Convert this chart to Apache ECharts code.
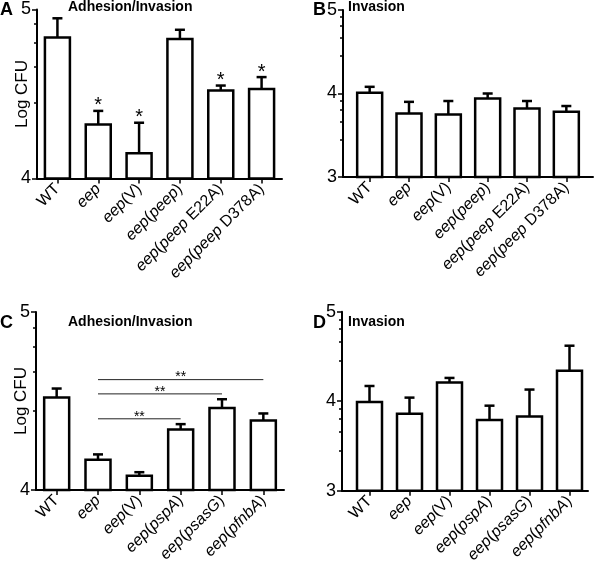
<!DOCTYPE html>
<html>
<head>
<meta charset="utf-8">
<script src="https://cdn.jsdelivr.net/npm/echarts@6/dist/echarts.min.js"></script>
<style>
html, body { margin: 0; padding: 0; background: #fff; }
#main { width: 600px; height: 566px; }
</style>
</head>
<body>
<div id="main"></div>
<script>
var FONT = '"Liberation Sans", Arial, sans-serif';

// categories
var catsTop = ['WT', 'eep', 'eep(V)', 'eep(peep)', 'eep(peep E22A)', 'eep(peep D378A)'];
var catsBottom = ['WT', 'eep', 'eep(V)', 'eep(pspA)', 'eep(psasG)', 'eep(pfnbA)'];
var italicWords = ['eep', 'peep', 'pspA', 'psasG', 'pfnbA'];

// A - Adhesion/Invasion, log CFU mean and SEM
var meanA = [4.835, 4.32, 4.15, 4.825, 4.52, 4.53];
var semA = [0.113, 0.08, 0.18, 0.055, 0.03, 0.07];
var starsA = ['', '*', '*', '', '*', '*'];

// B - Invasion
var meanB = [4.01, 3.76, 3.75, 3.94, 3.82, 3.78];
var semB = [0.07, 0.14, 0.16, 0.06, 0.09, 0.07];

// C - Adhesion/Invasion
var meanC = [4.52, 4.17, 4.08, 4.34, 4.46, 4.39];
var semC = [0.05, 0.03, 0.02, 0.03, 0.05, 0.04];
// C significance lines
var sigFromC = [1, 1, 1];
var sigToC = [3, 4, 5];
var sigLevelC = [4.40, 4.54, 4.62];
var sigTextC = ['**', '**', '**'];

// D - Invasion
var meanD = [3.99, 3.86, 4.21, 3.79, 3.83, 4.34];
var semD = [0.18, 0.18, 0.05, 0.16, 0.30, 0.28];

function pow10(v) { return Math.pow(10, v); }

function barData(mean, sem) {
	return mean.map(function(m, i) {
		return [i, pow10(m), pow10(m + sem[i])];
	});
}

function italicize(value) {
	return value.replace(/[A-Za-z]+/g, function(w) {
		return italicWords.indexOf(w) >= 0 ? '{i|' + w + '}' : w;
	});
}

function barRenderer(stars) {
	return function(params, api) {
		var i = api.value(0);
		var cs = params.coordSys;
		var baseY = cs.y + cs.height;
		var top = api.coord([i, api.value(1)]);
		var err = api.coord([i, api.value(2)]);
		var w = 25, cap = 5;
		var stroke = { stroke: '#000', lineWidth: 2.5 };
		var children = [{
			type: 'line',
			shape: { x1: top[0], y1: top[1], x2: err[0], y2: err[1] },
			style: stroke
		}, {
			type: 'line',
			shape: { x1: err[0] - cap, y1: err[1], x2: err[0] + cap, y2: err[1] },
			style: stroke
		}, {
			type: 'rect',
			shape: { x: top[0] - w / 2, y: top[1], width: w, height: baseY - top[1] },
			style: { fill: '#fff', stroke: '#000', lineWidth: 2.5 }
		}];
		if (stars && stars[params.dataIndex]) {
			children.push({
				type: 'text',
				style: {
					text: stars[params.dataIndex],
					x: err[0], y: err[1] - 5,
					align: 'center', verticalAlign: 'middle',
					fontSize: 20, fontFamily: FONT, fill: '#000'
				}
			});
		}
		return { type: 'group', children: children };
	};
}

function sigRenderer(params, api) {
	var a = api.coord([api.value(0), api.value(2)]);
	var b = api.coord([api.value(1), api.value(2)]);
	return {
		type: 'group',
		children: [{
			type: 'line',
			shape: { x1: a[0], y1: a[1], x2: b[0], y2: b[1] },
			style: { stroke: '#222', lineWidth: 1 }
		}, {
			type: 'text',
			style: {
				text: sigTextC[params.dataIndex],
				x: (a[0] + b[0]) / 2, y: a[1] - 2,
				align: 'center', verticalAlign: 'middle',
				fontSize: 14, fontFamily: FONT, fill: '#000'
			}
		}]
	};
}

function yAxisCfg(gridIndex, lo, hi, name, offset) {
	return {
		type: 'log',
		logBase: 10,
		gridIndex: gridIndex,
		min: pow10(lo),
		max: pow10(hi),
		offset: offset || 0,
		name: name || '',
		nameLocation: 'middle',
		nameGap: 6,
		nameMoveOverlap: false,
		nameTextStyle: { fontSize: 17, color: '#000', fontFamily: FONT },
		axisLine: { show: true, lineStyle: { color: '#000', width: 2 } },
		axisTick: { show: true, length: 5, lineStyle: { color: '#000', width: 1.5 } },
		minorTick: { show: true, splitNumber: 5, length: 3, lineStyle: { color: '#000', width: 1.5 } },
		splitLine: { show: false },
		minorSplitLine: { show: false },
		axisLabel: {
			margin: 6,
			fontSize: 18,
			color: '#000',
			fontFamily: FONT,
			formatter: function(v) {
				return Math.round(Math.log10(v));
			}
		}
	};
}

function xAxisCfg(gridIndex, cats, showLine) {
	return {
		type: 'category',
		gridIndex: gridIndex,
		data: cats,
		axisLine: { show: showLine, onZero: false, lineStyle: { color: '#000', width: 2 } },
		axisTick: { show: true, alignWithLabel: true, length: 5, lineStyle: { color: '#000', width: 1.5 } },
		splitLine: { show: false },
		axisLabel: {
			interval: 0,
			rotate: 45,
			margin: 8,
			fontSize: 16,
			color: '#000',
			fontFamily: FONT,
			formatter: italicize,
			rich: {
				i: { fontStyle: 'italic', fontSize: 16, color: '#000', fontFamily: FONT }
			}
		}
	};
}

function lineAxisX(gridIndex) {
	return {
		type: 'value', gridIndex: gridIndex, min: 0, max: 1,
		axisLine: { show: true, onZero: false, lineStyle: { color: '#000', width: 2 } },
		axisTick: { show: false }, axisLabel: { show: false }, splitLine: { show: false }
	};
}

function lineAxisY(gridIndex) {
	return { type: 'value', gridIndex: gridIndex, show: false, min: 0, max: 1 };
}

function titleCfg(text, left, top, size) {
	return {
		text: text, left: left, top: top, padding: 0,
		textStyle: { fontSize: size, fontWeight: 'bold', color: '#000', fontFamily: FONT }
	};
}

var chart = echarts.init(document.getElementById('main'));
chart.setOption({
	backgroundColor: '#fff',
	animation: false,
	title: [
		titleCfg('A', 0, 1, 18),
		titleCfg('Adhesion/Invasion', 68, 0, 14),
		titleCfg('B', 313, 1, 18),
		titleCfg('Invasion', 348, 0, 14),
		titleCfg('C', 0, 314, 18),
		titleCfg('Adhesion/Invasion', 68, 315, 14),
		titleCfg('D', 313, 314, 18),
		titleCfg('Invasion', 348, 315, 14)
	],
	grid: [
		{ left: 37, top: 9.5, width: 245, height: 169, outerBoundsMode: 'none' },
		{ left: 350, top: 10, width: 236, height: 167, outerBoundsMode: 'none' },
		{ left: 36, top: 312, width: 248, height: 178, outerBoundsMode: 'none' },
		{ left: 349.5, top: 311.7, width: 240, height: 179, outerBoundsMode: 'none' },
		{ left: 343, top: 10, width: 250, height: 167, outerBoundsMode: 'none' },
		{ left: 342, top: 311.7, width: 246, height: 179, outerBoundsMode: 'none' }
	],
	xAxis: [
		xAxisCfg(0, catsTop, true),
		xAxisCfg(1, catsTop, false),
		xAxisCfg(2, catsBottom, true),
		xAxisCfg(3, catsBottom, false),
		lineAxisX(4),
		lineAxisX(5)
	],
	yAxis: [
		yAxisCfg(0, 4, 5, 'Log CFU', 0),
		yAxisCfg(1, 3, 5, '', 7),
		yAxisCfg(2, 4, 5, 'Log CFU', 0),
		yAxisCfg(3, 3, 5, '', 7.5),
		lineAxisY(4),
		lineAxisY(5)
	],
	series: [{
		type: 'custom', xAxisIndex: 0, yAxisIndex: 0,
		renderItem: barRenderer(starsA),
		data: barData(meanA, semA)
	}, {
		type: 'custom', xAxisIndex: 1, yAxisIndex: 1,
		renderItem: barRenderer(null),
		data: barData(meanB, semB)
	}, {
		type: 'custom', xAxisIndex: 2, yAxisIndex: 2,
		renderItem: barRenderer(null),
		data: barData(meanC, semC)
	}, {
		type: 'custom', xAxisIndex: 2, yAxisIndex: 2,
		renderItem: sigRenderer,
		encode: { x: 0, y: 2 },
		data: sigFromC.map(function(f, i) {
			return [f, sigToC[i], pow10(sigLevelC[i])];
		})
	}, {
		type: 'custom', xAxisIndex: 3, yAxisIndex: 3,
		renderItem: barRenderer(null),
		data: barData(meanD, semD)
	}]
});
</script>
</body>
</html>
